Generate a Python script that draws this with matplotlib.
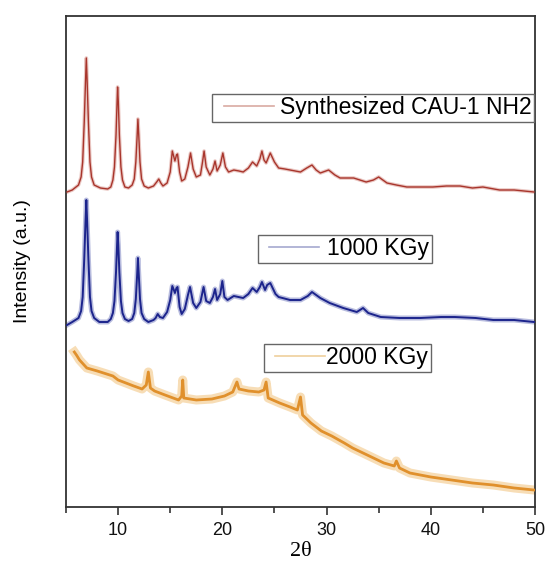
import matplotlib
matplotlib.use("Agg")
import matplotlib.pyplot as plt
from matplotlib.lines import Line2D
from matplotlib.legend import Legend
from matplotlib.legend_handler import HandlerLine2D

plt.rcParams["font.family"] = ["Liberation Sans", "DejaVu Sans"]

# ---------------- data ----------------
labels = ["Synthesized CAU-1 NH2", "1000 KGy", "2000 KGy"]

synth_2theta = [5.1, 5.6, 6.2, 6.45, 6.6, 6.75, 6.87, 6.95, 7.03, 7.15, 7.3, 7.45, 7.7,
                8.3, 9.0, 9.3, 9.5, 9.65, 9.8, 9.9, 9.95, 10.02, 10.12, 10.27, 10.42, 10.65,
                11.0, 11.35, 11.55, 11.7, 11.83, 11.9, 11.98, 12.1, 12.25, 12.5,
                12.9, 13.4, 13.7, 13.9, 14.1, 14.3, 14.7, 15.0, 15.2, 15.35, 15.45, 15.6,
                15.7, 15.9, 16.1, 16.4, 16.7, 16.95, 17.2, 17.5, 17.9, 18.1, 18.25, 18.45,
                18.8, 19.1, 19.3, 19.5, 19.8, 20.05, 20.3, 20.6, 21.1, 21.6, 22.0, 22.5,
                22.9, 23.3, 23.6, 23.8, 24.0, 24.2, 24.6, 25.0, 25.4, 26.0, 26.5, 27.5,
                28.1, 28.6, 29.0, 29.4, 30.2, 30.8, 31.3, 32.6, 33.8, 34.5, 35.0, 35.8,
                36.7, 37.7, 39.0, 40.2, 41.5, 42.8, 44.0, 45.0, 46.6, 48.0, 49.9]
synth_int = [315, 317, 322, 330, 345, 385, 425, 449, 425, 385, 345, 330, 322,
             319, 318, 320, 327, 340, 372, 405, 420, 405, 372, 340, 327, 320,
             319, 322, 328, 345, 372, 388, 372, 345, 328, 321,
             319, 321, 325, 328, 324, 321, 324, 335, 356, 350, 346, 352,
             353, 335, 326, 328, 340, 354, 338, 330, 332, 345, 356, 340,
             332, 338, 346, 336, 342, 354, 340, 335, 337, 336, 335, 339,
             345, 341, 348, 356, 347, 344, 354, 345, 339, 338, 337, 335,
             339, 342, 337, 334, 337, 332, 329, 329, 325, 327, 330, 324,
             322, 320, 320, 320, 321, 321, 319, 320, 317, 317, 315]

k1000_2theta = [5.1, 5.6, 6.2, 6.45, 6.6, 6.75, 6.87, 6.95, 7.03, 7.15, 7.3, 7.45, 7.7,
                8.2, 9.0, 9.3, 9.5, 9.65, 9.8, 9.9, 9.95, 10.02, 10.12, 10.27, 10.42, 10.65,
                11.0, 11.35, 11.55, 11.7, 11.83, 11.9, 11.98, 12.1, 12.25, 12.5,
                12.9, 13.4, 13.6, 13.8, 14.0, 14.3, 14.7, 15.0, 15.2, 15.35, 15.45, 15.6,
                15.7, 15.9, 16.1, 16.4, 16.7, 16.9, 17.2, 17.5, 17.9, 18.2, 18.45, 18.8,
                19.1, 19.3, 19.5, 19.8, 20.0, 20.2, 20.5, 21.1, 22.0, 22.5, 22.9, 23.3,
                23.6, 23.8, 24.1, 24.3, 24.6, 25.1, 25.4, 26.5, 27.5, 28.2, 28.6, 29.4,
                30.3, 31.6, 32.9, 33.5, 34.0, 35.2, 37.0, 39.0, 41.0, 42.3, 44.3, 46.0,
                48.0, 49.9]
k1000_int = [182, 185, 189, 196, 210, 248, 285, 307, 285, 248, 210, 196, 189,
             185, 185, 188, 194, 206, 235, 262, 275, 262, 235, 206, 194, 188,
             186, 188, 194, 208, 233, 249, 233, 208, 194, 188,
             185, 187, 189, 193, 190, 189, 195, 207, 221, 217, 214, 219,
             220, 200, 193, 198, 212, 220, 204, 199, 205, 220, 206, 204,
             210, 218, 207, 213, 226, 210, 207, 211, 209, 213, 219, 215,
             220, 225, 217, 222, 224, 213, 210, 207, 207, 211, 215, 209,
             204, 199, 195, 199, 194, 190, 189, 189, 190, 190, 189, 187,
             187, 185]

k2000_2theta = [5.8, 6.0, 6.3, 7.0, 8.0, 9.5, 10.0, 11.5, 12.3, 12.7, 12.9, 13.1, 13.5,
                14.5, 15.8, 16.1, 16.2, 16.3, 17.5, 19.0, 20.2, 21.0, 21.4, 21.6, 22.5,
                23.5, 24.0, 24.2, 24.4, 25.5, 26.5, 27.2, 27.5, 27.7, 28.5, 29.5, 30.5,
                31.7, 32.5, 33.5, 34.5, 35.5, 36.5, 36.7, 37.0, 38.0, 40.0, 42.0, 44.0,
                46.0, 48.0, 49.9]
k2000_int = [155, 152, 147, 139, 136, 131, 127, 121, 118, 122, 135, 119, 116,
             112, 107, 111, 127, 109, 107, 108, 111, 115, 125, 118, 116,
             115, 117, 125, 109, 104, 100, 97, 110, 92, 84, 76, 71,
             64, 59, 54, 49, 44, 41, 46, 39, 34, 30, 27, 24,
             22, 19, 17]

colors = ["#a8352c", "#1c248c", "#e0902c"]
halo_colors = ["#d99a92", "#7f86c4", "#f2c27a"]
legend_colors = ["#d9aaa2", "#a6a9cf", "#efcf9c"]

# ---------------- figure ----------------
fig = plt.figure(figsize=(5.45, 5.63), dpi=100)
ax = fig.add_axes([66 / 545, 1 - 507 / 563, (535 - 66) / 545, (507 - 16) / 563])

series = [(synth_2theta, synth_int), (k1000_2theta, k1000_int), (k2000_2theta, k2000_int)]
halo_w = [2.6, 3.6, 6.5]
main_w = [1.0, 1.4, 2.0]
for (xs, ys), c, hc, hw, mw in zip(series, colors, halo_colors, halo_w, main_w):
    ax.plot(xs, ys, color=hc, lw=hw, alpha=0.55, solid_joinstyle="round", zorder=2)
    ax.plot(xs, ys, color=c, lw=mw, solid_joinstyle="round", zorder=3)

ax.set_xlim(5, 50)
ax.set_ylim(0, 491)
ax.set_xticks([10, 20, 30, 40, 50])
ax.set_xticks([5, 15, 25, 35, 45], minor=True)
ax.tick_params(axis="x", which="major", direction="out", length=6, width=1.2,
               labelsize=13, colors="#333333", labelcolor="#111111", pad=5)
ax.tick_params(axis="x", which="minor", direction="out", length=4, width=1.2,
               colors="#333333")
ax.tick_params(axis="y", which="both", left=False, labelleft=False)
for s in ax.spines.values():
    s.set_linewidth(1.3)
    s.set_color("#333333")

ax.set_xlabel("2θ", family=["Liberation Serif", "DejaVu Serif"], fontsize=16, labelpad=2)
ax.set_ylabel("Intensity (a.u.)", fontsize=14, labelpad=25)

# ---------------- legends (three separate boxes) ----------------
fs = 16.5
fpx = fs * 100 / 72
anchors = [(0.311, 0.841), (0.409, 0.554), (0.422, 0.332)]
xpads = [10 / fpx, 9 / fpx, 9 / fpx]
textpads = [0.27, 0.36, 0.05]
for lab, lc, anc, xp, tp in zip(labels, legend_colors, anchors, xpads, textpads):
    h = Line2D([], [], color=lc, lw=1.2)
    leg = Legend(ax, [h], [lab], loc="upper left", bbox_to_anchor=anc,
                 bbox_transform=ax.transAxes, borderaxespad=0, borderpad=0.1,
                 handlelength=(50 / fpx) + xp, handletextpad=tp, frameon=True,
                 fancybox=False, edgecolor="#666666", framealpha=1,
                 prop={"family": "Liberation Sans", "size": fs},
                 handler_map={h: HandlerLine2D(xpad=xp)})
    leg.get_frame().set_linewidth(1.0)
    ax.add_artist(leg)

fig.savefig("out.png", dpi=100)
